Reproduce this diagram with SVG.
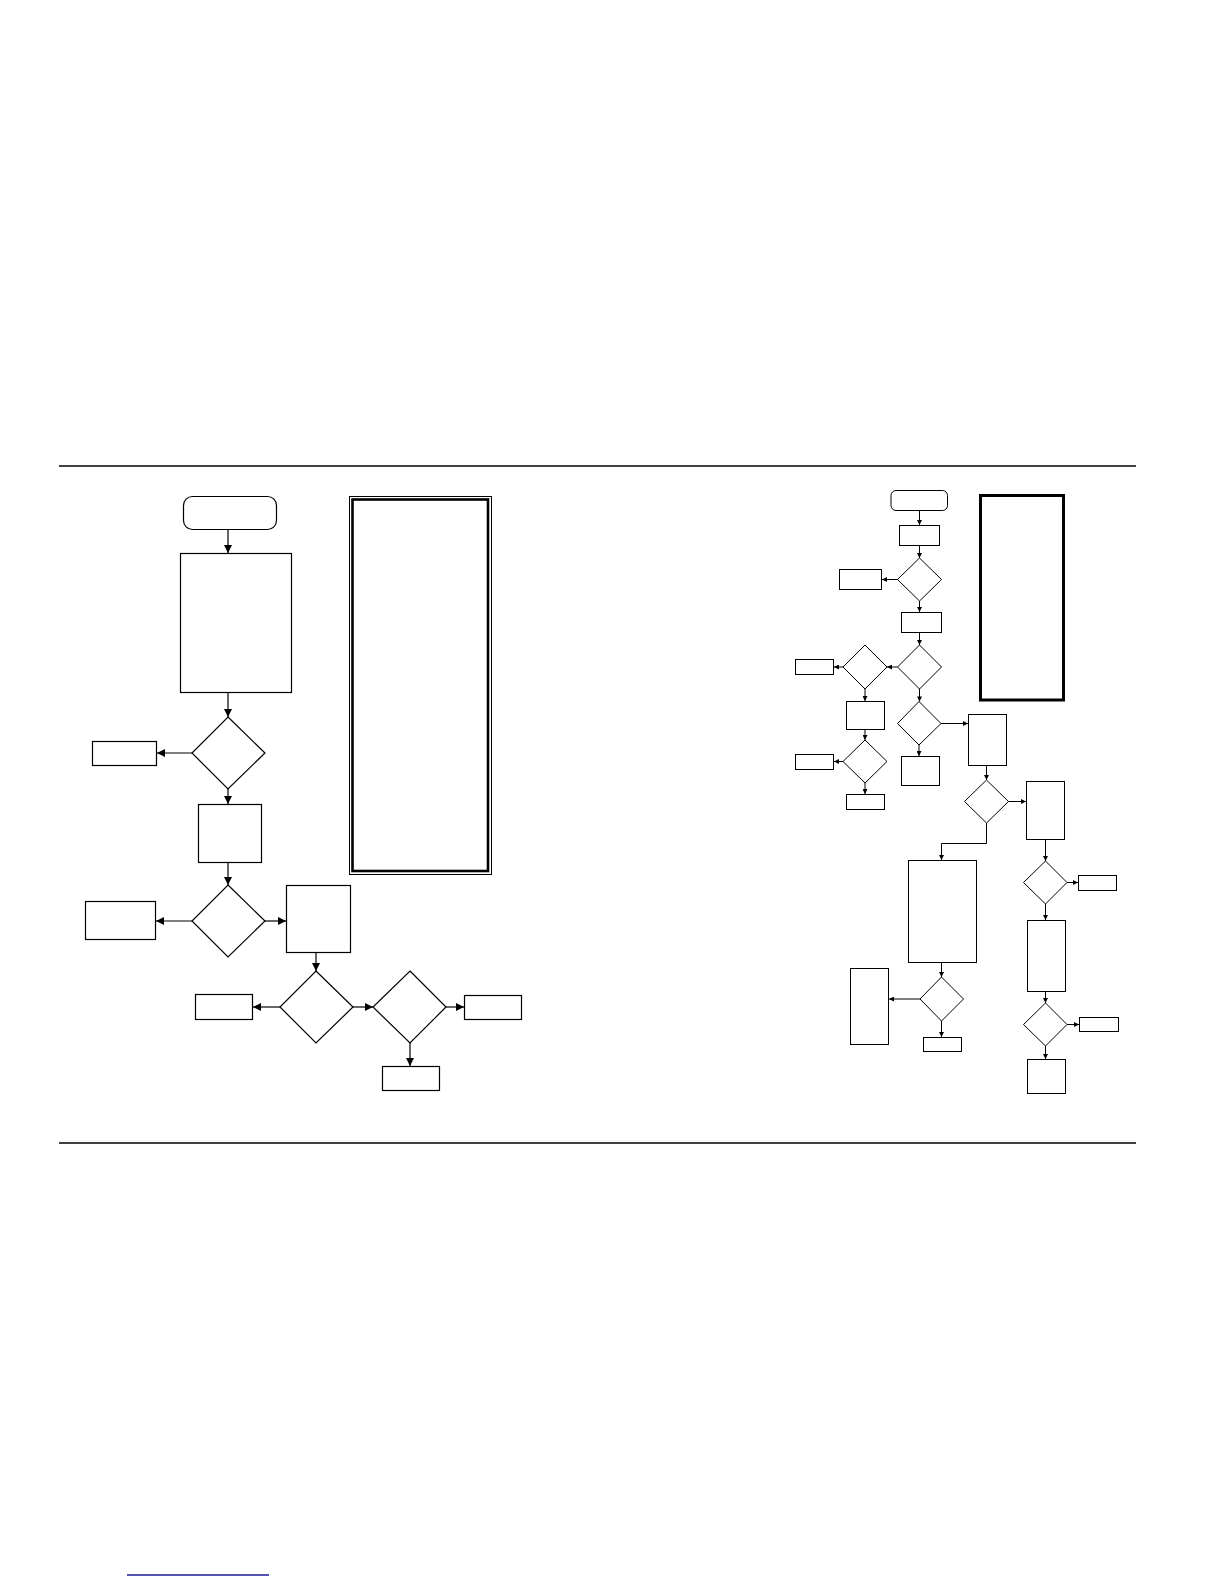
<svg xmlns="http://www.w3.org/2000/svg" width="1224" height="1584" viewBox="0 0 1224 1584">
<style>
.n{fill:#fff;stroke:#000;stroke-width:1.2}
.s{fill:#fff;stroke:#000;stroke-width:1}
.c{fill:none;stroke:#000;stroke-width:1.2}
.cs{fill:none;stroke:#000;stroke-width:1}
.rule{stroke:#000;stroke-width:1.3}
</style>
<defs>
<marker id="ab" viewBox="0 0 10 10" refX="10" refY="5" markerWidth="9" markerHeight="8" markerUnits="userSpaceOnUse" orient="auto"><path d="M0,0 L10,5 L0,10 z" fill="#000"/></marker>
<marker id="as" viewBox="0 0 10 10" refX="10" refY="5" markerWidth="6" markerHeight="5" markerUnits="userSpaceOnUse" orient="auto"><path d="M0,0 L10,5 L0,10 z" fill="#000"/></marker>
</defs>
<rect width="1224" height="1584" fill="#fff"/>
<line class="rule" x1="59" y1="466" x2="1136" y2="466"/>
<line class="rule" x1="59" y1="1143" x2="1136" y2="1143"/>
<line x1="127" y1="1575" x2="269" y2="1575" stroke="#1a1a9a" stroke-width="1.3"/>

<g id="left-start"><rect class="n" x="183.5" y="496.5" width="93" height="33" rx="9"/></g>
<g id="left-p1"><rect class="n" x="180.5" y="553.5" width="111" height="139"/></g>
<g id="left-d1"><polygon class="n" points="228,717 265,753 228,789 192,753"/></g>
<g id="left-b1"><rect class="n" x="92.5" y="741.5" width="64" height="24"/></g>
<g id="left-p2"><rect class="n" x="198.5" y="804.5" width="63" height="58"/></g>
<g id="left-d2"><polygon class="n" points="228,885 265,921 228,957 192,921"/></g>
<g id="left-b2"><rect class="n" x="85.5" y="901.5" width="70" height="38"/></g>
<g id="left-p3"><rect class="n" x="286.5" y="885.5" width="64" height="67"/></g>
<g id="left-d3"><polygon class="n" points="316,971 353,1007 316,1043 280,1007"/></g>
<g id="left-b3"><rect class="n" x="195.5" y="994.5" width="57" height="25"/></g>
<g id="left-d4"><polygon class="n" points="410,971 446,1007 410,1043 373,1007"/></g>
<g id="left-b4"><rect class="n" x="464.5" y="995.5" width="57" height="24"/></g>
<g id="left-b5"><rect class="n" x="382.5" y="1066.5" width="57" height="24"/></g>
<g id="left-note">
<rect x="349.5" y="496.5" width="142" height="378" fill="none" stroke="#000" stroke-width="1"/>
<rect x="352.5" y="499.5" width="135.5" height="371.5" fill="none" stroke="#000" stroke-width="2.6"/>
</g>

<g id="right-start"><rect class="s" x="891" y="490.5" width="56.5" height="20" rx="5"/></g>
<g id="right-r1"><rect class="s" x="899.5" y="525.5" width="40" height="20"/></g>
<g id="right-dA"><polygon class="s" points="919.5,558 941.5,579.5 919.5,601 897.5,579.5"/></g>
<g id="right-bA"><rect class="s" x="839.5" y="569.5" width="42" height="20"/></g>
<g id="right-r2"><rect class="s" x="901.5" y="612.5" width="40" height="20"/></g>
<g id="right-dB"><polygon class="s" points="919.5,645 941.5,667 919.5,689 897.5,667"/></g>
<g id="right-dC"><polygon class="s" points="865,645 887,667 865,689 843,667"/></g>
<g id="right-bC"><rect class="s" x="795.5" y="659.5" width="38" height="15"/></g>
<g id="right-rC"><rect class="s" x="846.5" y="701.5" width="38" height="28"/></g>
<g id="right-dD"><polygon class="s" points="865,740 887,761.5 865,783 843,761.5"/></g>
<g id="right-bD"><rect class="s" x="795.5" y="754.5" width="38" height="15"/></g>
<g id="right-rD"><rect class="s" x="846.5" y="794.5" width="38" height="15"/></g>
<g id="right-dE"><polygon class="s" points="919,701.5 941,723.5 919,745 897.5,723.5"/></g>
<g id="right-bE"><rect class="s" x="901.5" y="756.5" width="38" height="29"/></g>
<g id="right-rE"><rect class="s" x="968.5" y="714.5" width="38" height="51"/></g>
<g id="right-dF"><polygon class="s" points="986.5,780 1008.5,801.5 986.5,823 964.5,801.5"/></g>
<g id="right-rF"><rect class="s" x="1026.5" y="781.5" width="38" height="58"/></g>
<g id="right-big"><rect class="s" x="908.5" y="860.5" width="68" height="102"/></g>
<g id="right-dG"><polygon class="s" points="941.5,977 963.5,999 941.5,1021 920,999"/></g>
<g id="right-rG"><rect class="s" x="850.5" y="968.5" width="38" height="76"/></g>
<g id="right-bG"><rect class="s" x="923.5" y="1037.5" width="38" height="14"/></g>
<g id="right-dH"><polygon class="s" points="1045.5,861 1067,882.5 1045.5,904 1023.5,882.5"/></g>
<g id="right-bH"><rect class="s" x="1078.5" y="875.5" width="38" height="15"/></g>
<g id="right-rH"><rect class="s" x="1027.5" y="920.5" width="38" height="71"/></g>
<g id="right-dI"><polygon class="s" points="1045.5,1003 1067,1024.5 1045.5,1046 1023.5,1024.5"/></g>
<g id="right-bI"><rect class="s" x="1079.5" y="1017.5" width="39" height="14"/></g>
<g id="right-rI"><rect class="s" x="1027.5" y="1059.5" width="38" height="34"/></g>
<g id="right-note"><rect x="980.5" y="495.5" width="83" height="204.5" fill="none" stroke="#000" stroke-width="3"/></g>

<g id="connectors">
<g class="c" marker-end="url(#ab)">
<line x1="228" y1="530" x2="228" y2="553"/>
<line x1="228" y1="693" x2="228" y2="717"/>
<line x1="192" y1="753" x2="157" y2="753"/>
<line x1="228" y1="789" x2="228" y2="804"/>
<line x1="228" y1="863" x2="228" y2="885"/>
<line x1="192" y1="921" x2="156" y2="921"/>
<line x1="265" y1="921" x2="286" y2="921"/>
<line x1="316" y1="953" x2="316" y2="971"/>
<line x1="280" y1="1007" x2="253" y2="1007"/>
<line x1="353" y1="1007" x2="373" y2="1007"/>
<line x1="446" y1="1007" x2="464" y2="1007"/>
<line x1="410" y1="1043" x2="410" y2="1066"/>
</g>
<g class="cs" marker-end="url(#as)">
<line x1="919.5" y1="511" x2="919.5" y2="525"/>
<line x1="919.5" y1="546" x2="919.5" y2="558"/>
<line x1="897.5" y1="579.5" x2="882" y2="579.5"/>
<line x1="919.5" y1="601" x2="919.5" y2="612"/>
<line x1="919.5" y1="633" x2="919.5" y2="645"/>
<line x1="897.5" y1="667" x2="887" y2="667"/>
<line x1="843" y1="667" x2="834" y2="667"/>
<line x1="865" y1="689" x2="865" y2="701"/>
<line x1="865" y1="730" x2="865" y2="740"/>
<line x1="843" y1="761.5" x2="834" y2="761.5"/>
<line x1="865" y1="783" x2="865" y2="794"/>
<line x1="919.5" y1="689" x2="919.5" y2="701.5"/>
<line x1="919" y1="745" x2="919" y2="756"/>
<line x1="941" y1="723.5" x2="968" y2="723.5"/>
<line x1="986.5" y1="766" x2="986.5" y2="780"/>
<line x1="1008.5" y1="801.5" x2="1026" y2="801.5"/>
<polyline points="986.5,823 986.5,843.5 941.5,843.5 941.5,860"/>
<line x1="941.5" y1="963" x2="941.5" y2="977"/>
<line x1="920" y1="999" x2="889" y2="999"/>
<line x1="941.5" y1="1021" x2="941.5" y2="1037"/>
<line x1="1045.5" y1="840" x2="1045.5" y2="861"/>
<line x1="1067" y1="882.5" x2="1078" y2="882.5"/>
<line x1="1045.5" y1="904" x2="1045.5" y2="920"/>
<line x1="1045.5" y1="992" x2="1045.5" y2="1003"/>
<line x1="1067" y1="1024.5" x2="1079" y2="1024.5"/>
<line x1="1045.5" y1="1046" x2="1045.5" y2="1059"/>
</g>
</g>
</svg>
